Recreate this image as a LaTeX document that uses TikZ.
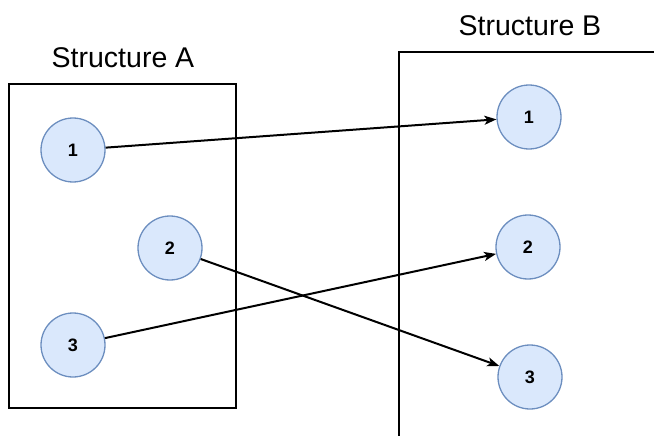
\documentclass[tikz,border=0pt]{standalone}
\usepackage{fontspec}
\setmainfont{Liberation Sans}
\usetikzlibrary{arrows.meta}
\definecolor{nodefill}{HTML}{DAE8FC}
\definecolor{nodeline}{HTML}{6C8EBF}
\tikzset{
  elem/.style={circle, draw=nodeline, fill=nodefill, line width=1.3pt,
    minimum size=64pt, inner sep=0pt, font=\fontsize{18}{18}\selectfont\bfseries},
  frame/.style={draw=black, line width=1.4pt},
  title/.style={font=\fontsize{28.5}{28.5}\selectfont, inner sep=0pt},
  link/.style={draw=black, line width=2pt,
    -{Stealth[length=12pt,width=9pt,inset=3pt]}}
}
\begin{document}
\begin{tikzpicture}[x=1pt,y=-1pt]
  \useasboundingbox (0,0) rectangle (654,436);
  % container outlines
  \draw[frame] (9,84) rectangle (236,408);
  \draw[frame] (399,436) -- (399,52) -- (654,52);
  % titles
  \node[title] (ta) at (123,58) {Structure A};
  \node[title] (tb) at (530,26) {Structure B};
  % elements of A
  \node[elem] (a1) at (73,150) {1};
  \node[elem] (a2) at (170,248) {2};
  \node[elem] (a3) at (73,345) {3};
  % elements of B
  \node[elem] (b1) at (529,117) {1};
  \node[elem] (b2) at (528,247) {2};
  \node[elem] (b3) at (530,377) {3};
  % mappings
  \draw[link] (a1) -- (b1);
  \draw[link] (a2) -- (b3);
  \draw[link] (a3) -- (b2);
\end{tikzpicture}
\end{document}
